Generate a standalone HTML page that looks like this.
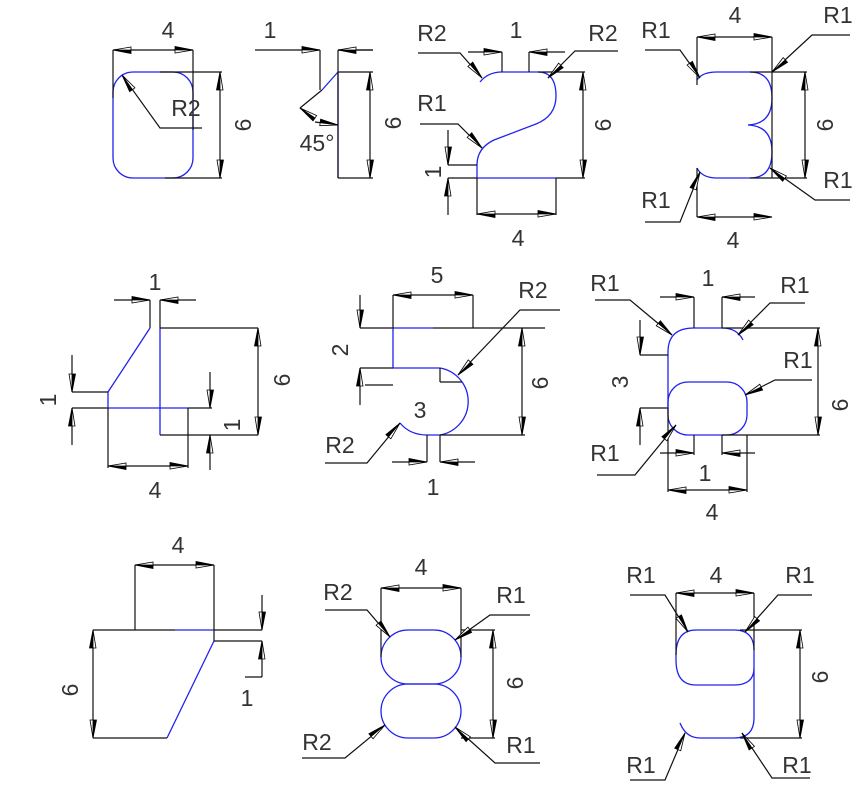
<!DOCTYPE html>
<html><head><meta charset="utf-8"><style>
html,body{margin:0;padding:0;background:#fff;}
svg{display:block}
text{font-family:"Liberation Sans",sans-serif;font-size:23px;fill:#333;text-anchor:middle;dominant-baseline:central}
.k{stroke:#111;stroke-width:1.2;fill:none}
.b{stroke:#2222ee;stroke-width:1.3;fill:none}
</style></head><body>
<svg width="859" height="786" viewBox="0 0 859 786" xmlns="http://www.w3.org/2000/svg">
<defs>
<marker id="a" markerUnits="userSpaceOnUse" markerWidth="24" markerHeight="12" refX="0" refY="0" viewBox="-20 -6 22 12" orient="auto-start-reverse" overflow="visible">
<path d="M0,0 L-18,-3.5 L-18,0 Z" fill="#000" stroke="#000" stroke-width="0.8"/>
<path d="M0,0 L-18,0 L-18,3 Z" fill="#fff" stroke="#000" stroke-width="0.8"/>
</marker>
</defs>

<!-- Panel 1 -->
<rect class="b" x="113" y="72" width="80" height="106" rx="20" ry="20"/>
<path class="k" d="M113,50 V98 M193,50 V130 M160,72 H222 M165,178 H222"/>
<line class="k" x1="113" y1="50" x2="193" y2="50" marker-start="url(#a)" marker-end="url(#a)"/>
<line class="k" x1="220" y1="72" x2="220" y2="178" marker-start="url(#a)" marker-end="url(#a)"/>
<polyline class="k" points="202,128 160,128 122,75" marker-end="url(#a)"/>
<text x="168" y="30">4</text>
<text x="186" y="108">R2</text>
<text x="243" y="125" transform="rotate(-90 243 125)">6</text>

<!-- Panel 2 -->
<path class="b" d="M338,72 V178 M338,72 L322,90"/>
<path class="k" d="M320,50 V90 M338,50 V178 M338,72 H373 M338,178 H373 M322,90 L300,108 M338,50 H373"/>
<line class="k" x1="255" y1="50" x2="320" y2="50" marker-end="url(#a)"/>
<line class="k" x1="373" y1="50" x2="338" y2="50" marker-end="url(#a)"/>
<line class="k" x1="370" y1="72" x2="370" y2="178" marker-start="url(#a)" marker-end="url(#a)"/>
<line class="k" x1="312" y1="116" x2="300" y2="108" marker-end="url(#a)"/>
<line class="k" x1="315" y1="122" x2="338" y2="125" marker-end="url(#a)"/>
<text x="270" y="30">1</text>
<text x="317" y="143">45°</text>
<text x="393" y="123" transform="rotate(-90 393 123)">6</text>

<!-- Panel 3 : "2" -->
<path class="b" d="M480,82 Q488,72 502,72 H538 Q556,72 556,96 Q556,116 536,124 L494,140 Q477,148 477,165 V178 H556"/>
<path class="k" d="M538,72 H585 M556,178 H585 M502,52 V72 M529,52 V72 M448,165 H477 M448,178 H477 M477,178 V215 M556,178 V215"/>
<line class="k" x1="468" y1="52" x2="502" y2="52" marker-end="url(#a)"/>
<line class="k" x1="565" y1="52" x2="529" y2="52" marker-end="url(#a)"/>
<line class="k" x1="583" y1="72" x2="583" y2="178" marker-start="url(#a)" marker-end="url(#a)"/>
<line class="k" x1="448" y1="130" x2="448" y2="165" marker-end="url(#a)"/>
<line class="k" x1="448" y1="215" x2="448" y2="178" marker-end="url(#a)"/>
<line class="k" x1="477" y1="214" x2="556" y2="214" marker-start="url(#a)" marker-end="url(#a)"/>
<polyline class="k" points="418,53 460,53 482,78" marker-end="url(#a)"/>
<polyline class="k" points="618,51 575,51 548,78" marker-end="url(#a)"/>
<polyline class="k" points="420,124 458,124 482,148" marker-end="url(#a)"/>
<text x="432" y="33">R2</text>
<text x="516" y="30">1</text>
<text x="603" y="33">R2</text>
<text x="432" y="103">R1</text>
<text x="603" y="125" transform="rotate(-90 603 125)">6</text>
<text x="433" y="172" transform="rotate(-90 433 172)">1</text>
<text x="518" y="238">4</text>

<!-- Panel 4 : "3" -->
<path class="b" d="M697,80 Q702,72 717,72 H750 Q772,72 772,98 Q772,124 748,125 Q772,126 772,152 Q772,178 750,178 H717 Q702,178 697,168"/>
<path class="k" d="M697,37 V85 M772,37 V178 M750,72 H807 M750,178 H807 M697,168 V217"/>
<line class="k" x1="697" y1="37" x2="772" y2="37" marker-start="url(#a)" marker-end="url(#a)"/>
<line class="k" x1="697" y1="217" x2="772" y2="217" marker-start="url(#a)" marker-end="url(#a)"/>
<line class="k" x1="805" y1="72" x2="805" y2="178" marker-start="url(#a)" marker-end="url(#a)"/>
<polyline class="k" points="645,50 680,50 700,78" marker-end="url(#a)"/>
<polyline class="k" points="850,35 812,35 772,72" marker-end="url(#a)"/>
<polyline class="k" points="850,200 815,200 770,168" marker-end="url(#a)"/>
<polyline class="k" points="645,222 680,222 700,172" marker-end="url(#a)"/>
<text x="735" y="15">4</text>
<text x="656" y="30">R1</text>
<text x="838" y="15">R1</text>
<text x="838" y="180">R1</text>
<text x="656" y="200">R1</text>
<text x="733" y="240">4</text>
<text x="825" y="125" transform="rotate(-90 825 125)">6</text>

<!-- Panel 5 -->
<path class="b" d="M150,328 L108,392 V408 H188 M160,328 V435"/>
<path class="k" d="M150,300 V328 M160,300 V328 M160,328 H258 M160,435 H258 M72,392 H108 M72,408 H108 M108,408 V468 M188,408 V468 M188,408 H212 M188,435 H212"/>
<line class="k" x1="114" y1="300" x2="150" y2="300" marker-end="url(#a)"/>
<line class="k" x1="196" y1="300" x2="160" y2="300" marker-end="url(#a)"/>
<line class="k" x1="258" y1="328" x2="258" y2="435" marker-start="url(#a)" marker-end="url(#a)"/>
<line class="k" x1="72" y1="355" x2="72" y2="392" marker-end="url(#a)"/>
<line class="k" x1="72" y1="445" x2="72" y2="408" marker-end="url(#a)"/>
<line class="k" x1="210" y1="372" x2="210" y2="408" marker-end="url(#a)"/>
<line class="k" x1="210" y1="470" x2="210" y2="435" marker-end="url(#a)"/>
<line class="k" x1="108" y1="466" x2="188" y2="466" marker-start="url(#a)" marker-end="url(#a)"/>
<text x="155" y="282">1</text>
<text x="155" y="490">4</text>
<text x="282" y="380" transform="rotate(-90 282 380)">6</text>
<text x="48" y="400" transform="rotate(-90 48 400)">1</text>
<text x="232" y="425" transform="rotate(-90 232 425)">1</text>

<!-- Panel 6 : "5" -->
<path class="b" d="M433,328 H393 V368 H440 A34,34 0 0 1 440,435 H427 Q410,435 400,423"/>
<path class="k" d="M360,328 H393 M433,328 H545 M360,368 H393 M393,295 V328 M473,295 V328 M440,435 H525 M427,435 V462 M440,435 V462 M440,368 V382 M440,382 H462"/>
<line class="k" x1="393" y1="295" x2="473" y2="295" marker-start="url(#a)" marker-end="url(#a)"/>
<line class="k" x1="522" y1="328" x2="522" y2="435" marker-start="url(#a)" marker-end="url(#a)"/>
<line class="k" x1="360" y1="295" x2="360" y2="328" marker-end="url(#a)"/>
<line class="k" x1="360" y1="405" x2="360" y2="368" marker-end="url(#a)"/>
<line class="k" x1="392" y1="462" x2="427" y2="462" marker-end="url(#a)"/>
<line class="k" x1="475" y1="462" x2="440" y2="462" marker-end="url(#a)"/>
<line class="k" x1="393" y1="385" x2="365" y2="385"/>
<polyline class="k" points="560,310 520,310 458,375" marker-end="url(#a)"/>
<polyline class="k" points="325,463 367,463 400,423" marker-end="url(#a)"/>
<text x="437" y="275">5</text>
<text x="533" y="290">R2</text>
<text x="340" y="350" transform="rotate(-90 340 350)">2</text>
<text x="420" y="410">3</text>
<text x="340" y="445">R2</text>
<text x="433" y="487">1</text>
<text x="540" y="383" transform="rotate(-90 540 383)">6</text>

<!-- Panel 7 : "6" -->
<path class="b" d="M743,340 Q737,328 722,328 H694 Q668,328 668,352 V408"/>
<rect class="b" x="668" y="382" width="79" height="53" rx="20" ry="20"/>
<path class="k" d="M694,297 V328 M722,297 V328 M722,328 H820 M722,435 H820 M640,355 H668 M640,408 H668 M694,435 V455 M722,435 V455 M668,408 V492 M747,435 V492"/>
<line class="k" x1="660" y1="297" x2="694" y2="297" marker-end="url(#a)"/>
<line class="k" x1="755" y1="297" x2="722" y2="297" marker-end="url(#a)"/>
<line class="k" x1="818" y1="328" x2="818" y2="435" marker-start="url(#a)" marker-end="url(#a)"/>
<line class="k" x1="640" y1="320" x2="640" y2="355" marker-end="url(#a)"/>
<line class="k" x1="640" y1="445" x2="640" y2="408" marker-end="url(#a)"/>
<line class="k" x1="660" y1="453" x2="694" y2="453" marker-end="url(#a)"/>
<line class="k" x1="755" y1="453" x2="722" y2="453" marker-end="url(#a)"/>
<line class="k" x1="668" y1="490" x2="747" y2="490" marker-start="url(#a)" marker-end="url(#a)"/>
<polyline class="k" points="595,300 630,300 672,335" marker-end="url(#a)"/>
<polyline class="k" points="805,303 770,303 738,335" marker-end="url(#a)"/>
<polyline class="k" points="812,380 775,380 745,395" marker-end="url(#a)"/>
<polyline class="k" points="597,475 635,475 676,425" marker-end="url(#a)"/>
<text x="708" y="278">1</text>
<text x="605" y="283">R1</text>
<text x="795" y="285">R1</text>
<text x="798" y="360">R1</text>
<text x="605" y="453">R1</text>
<text x="620" y="382" transform="rotate(-90 620 382)">3</text>
<text x="840" y="405" transform="rotate(-90 840 405)">6</text>
<text x="705" y="473">1</text>
<text x="712" y="512">4</text>

<!-- Panel 8 -->
<path class="b" d="M175,630 H214 M214,641 L167,738"/>
<path class="k" d="M93,630 H175 M214,630 H262 M214,630 V641 M214,641 H262 M93,738 H167 M135,565 V630 M214,565 V630 M245,677 H262"/>
<line class="k" x1="135" y1="565" x2="214" y2="565" marker-start="url(#a)" marker-end="url(#a)"/>
<line class="k" x1="93" y1="630" x2="93" y2="738" marker-start="url(#a)" marker-end="url(#a)"/>
<line class="k" x1="262" y1="595" x2="262" y2="630" marker-end="url(#a)"/>
<line class="k" x1="262" y1="677" x2="262" y2="641" marker-end="url(#a)"/>
<text x="178" y="545">4</text>
<text x="247" y="698">1</text>
<text x="70" y="690" transform="rotate(-90 70 690)">6</text>

<!-- Panel 9 : "8" -->
<rect class="b" x="381" y="630" width="80" height="54" rx="27" ry="27"/>
<rect class="b" x="381" y="684" width="80" height="54" rx="27" ry="27"/>
<path class="k" d="M381,588 V657 M461,588 V657 M461,630 H495 M461,738 H495"/>
<line class="k" x1="381" y1="588" x2="461" y2="588" marker-start="url(#a)" marker-end="url(#a)"/>
<line class="k" x1="493" y1="630" x2="493" y2="738" marker-start="url(#a)" marker-end="url(#a)"/>
<polyline class="k" points="325,610 367,610 390,637" marker-end="url(#a)"/>
<polyline class="k" points="530,615 490,615 455,640" marker-end="url(#a)"/>
<polyline class="k" points="302,758 345,758 385,725" marker-end="url(#a)"/>
<polyline class="k" points="540,763 495,763 455,727" marker-end="url(#a)"/>
<text x="421" y="567">4</text>
<text x="338" y="592">R2</text>
<text x="511" y="595">R1</text>
<text x="317" y="742">R2</text>
<text x="521" y="745">R1</text>
<text x="515" y="683" transform="rotate(-90 515 683)">6</text>

<!-- Panel 10 : "9" -->
<path class="b" d="M754,650 Q754,630 734,630 H696 Q676,630 676,655 V660 Q676,685 696,685 H734 Q754,685 754,668 M754,650 V718 Q754,738 734,738 H700 Q686,738 680,723"/>
<path class="k" d="M676,593 V655 M754,593 V650 M740,630 H802 M740,738 H802"/>
<line class="k" x1="676" y1="593" x2="754" y2="593" marker-start="url(#a)" marker-end="url(#a)"/>
<line class="k" x1="800" y1="630" x2="800" y2="738" marker-start="url(#a)" marker-end="url(#a)"/>
<polyline class="k" points="630,595 665,595 688,632" marker-end="url(#a)"/>
<polyline class="k" points="812,595 778,595 745,632" marker-end="url(#a)"/>
<polyline class="k" points="630,780 665,780 685,733" marker-end="url(#a)"/>
<polyline class="k" points="810,778 772,778 742,733" marker-end="url(#a)"/>
<text x="716" y="575">4</text>
<text x="641" y="575">R1</text>
<text x="800" y="575">R1</text>
<text x="641" y="765">R1</text>
<text x="797" y="765">R1</text>
<text x="820" y="677" transform="rotate(-90 820 677)">6</text>
</svg>
</body></html>
